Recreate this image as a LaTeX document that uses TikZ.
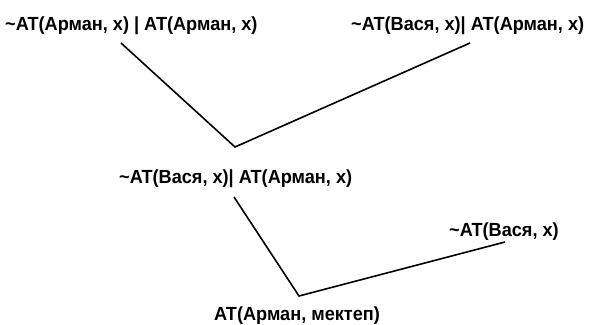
\documentclass[tikz,border=0pt]{standalone}
\usepackage{fontspec}
\newfontfamily\lblfont{Liberation Sans Bold}[FakeStretch=0.955]
\begin{document}
\begin{tikzpicture}[x=1pt,y=-1pt,
  lbl/.style={inner sep=0pt,anchor=base west,font=\lblfont\fontsize{19}{22}\selectfont},
  edge/.style={line width=1.6pt,line join=miter}]
\useasboundingbox (0,0) rectangle (589,324);
\node[lbl] (t1) at (5,30) {\textasciitilde AT(Арман, x) | AT(Арман, x)};
\node[lbl] (t2) at (351,30) {\textasciitilde AT(Вася, x)| AT(Арман, x)};
\node[lbl] (t3) at (119,183) {\textasciitilde AT(Вася, x)| AT(Арман, x)};
\node[lbl] (t4) at (449,236) {\textasciitilde AT(Вася, x)};
\node[lbl] (t5) at (214,320) {AT(Арман, мектеп)};
\coordinate (a1) at (121,43);
\coordinate (v1) at (235,147);
\coordinate (b1) at (470,43);
\coordinate (a2) at (234,197);
\coordinate (v2) at (299,296);
\coordinate (b2) at (505,242);
\draw[edge] (a1) -- (v1) -- (b1);
\draw[edge] (a2) -- (v2) -- (b2);
\end{tikzpicture}
\end{document}
